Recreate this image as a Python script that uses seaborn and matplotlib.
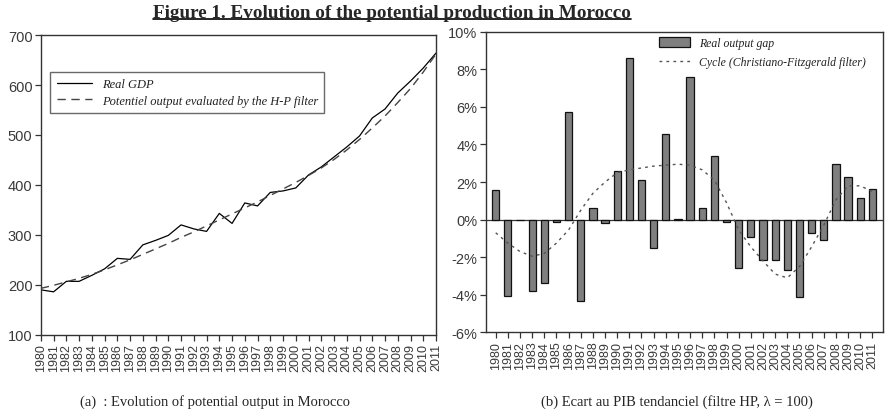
"""Figure 1: potential output and output gap for Morocco."""

import matplotlib
matplotlib.use("Agg")
import matplotlib.pyplot as plt
from matplotlib.lines import Line2D
import numpy as np
import pandas as pd
import seaborn as sns

# ---- data ----
years = list(range(1980, 2012))
real_gdp = [190, 186, 207, 207, 219, 232, 253, 251, 280, 289, 299, 320, 312, 307, 343, 323,
            364, 358, 385, 388, 394, 420, 436, 456, 476, 498, 534, 552, 584, 608, 634, 664]
hp_trend = [193, 199, 206, 213, 221, 230, 240, 250, 261, 272, 283, 295, 306, 318, 330, 342,
            354, 366, 379, 392, 405, 419, 434, 451, 470, 491, 514, 538, 565, 593, 626, 662]
output_gap = [1.6, -4.05, 0.0, -3.8, -3.4, -0.1, 5.75, -4.35, 0.6, -0.2, 2.6, 8.6, 2.1, -1.5,
              4.55, 0.05, 7.6, 0.6, 3.4, -0.1, -2.6, -0.9, -2.15, -2.15, -2.7, -4.1, -0.7,
              -1.1, 2.95, 2.25, 1.15, 1.65]
cf_cycle = [-0.7, -1.25, -1.7, -1.95, -1.8, -1.25, -0.55, 0.5, 1.4, 2.0, 2.5, 2.65, 2.75,
            2.85, 2.9, 2.95, 2.9, 2.65, 2.1, 0.9, -0.55, -1.45, -2.2, -2.9, -3.1, -2.5,
            -1.45, -0.3, 1.05, 1.8, 1.8, 1.5]

gdp_df = pd.DataFrame({"Year": years, "Real GDP": real_gdp, "Trend": hp_trend})
gap_df = pd.DataFrame({"Year": [str(y) for y in years], "Gap": output_gap,
                       "Pos": np.arange(len(years)), "Cycle": cf_cycle})

sns.set_style("ticks")
plt.rcParams["font.family"] = ["Liberation Sans", "DejaVu Sans"]
TICK_COLOR = "#3a3a3a"
SERIF = ["Liberation Serif", "DejaVu Serif"]

fig = plt.figure(figsize=(8.88, 4.10), dpi=100)
ax1 = fig.add_axes([0.046, 0.181, 0.445, 0.731])
ax2 = fig.add_axes([0.547, 0.187, 0.447, 0.733])


def _style_axes(ax):
    for sp in ax.spines.values():
        sp.set_color("#333333")
        sp.set_linewidth(1.0)
    ax.tick_params(axis="both", direction="out", length=4, width=0.9, color="#333333",
                   labelcolor=TICK_COLOR, pad=2)
    ax.tick_params(axis="y", labelsize=10.5)
    ax.tick_params(axis="x", labelsize=9, rotation=90)


# ---- panel (a) ----
sns.lineplot(data=gdp_df, x="Year", y="Real GDP", ax=ax1, color="black", linewidth=0.9,
             label="Real GDP")
sns.lineplot(data=gdp_df, x="Year", y="Trend", ax=ax1, color="#444444", linewidth=1.0,
             dashes=False, label="Potentiel output evaluated by the H-P filter")
ax1.lines[1].set_dashes((6, 4))
ax1.set_xlim(1980, 2011)
ax1.set_ylim(100, 700)
ax1.set_xticks(years)
ax1.set_xticklabels([str(y) for y in years])
ax1.set_yticks(range(100, 701, 100))
ax1.set_xlabel("")
ax1.set_ylabel("")
_style_axes(ax1)
leg1 = ax1.legend(loc="upper left", bbox_to_anchor=(0.024, 0.877), frameon=True, fancybox=False,
                  prop={"family": SERIF, "style": "italic", "size": 9}, handlelength=2.8,
                  borderpad=0.5, labelspacing=0.35, handletextpad=0.8, borderaxespad=0)
leg1.get_frame().set_edgecolor("#444444")
leg1.get_frame().set_linewidth(1.0)
for t in leg1.get_texts():
    t.set_color("#222222")

# ---- panel (b) ----
sns.barplot(data=gap_df, x="Year", y="Gap", ax=ax2, color="#7f7f7f", edgecolor="#111111",
            linewidth=0.9, width=0.6, saturation=1, label="Real output gap")
sns.lineplot(data=gap_df, x="Pos", y="Cycle", ax=ax2, color="#555555", linewidth=1.0,
             label="Cycle (Christiano-Fitzgerald filter)")
ax2.lines[-1].set_dashes((2, 3))
ax2.axhline(0, color="#333333", linewidth=0.9, zorder=0.5)
ax2.set_xlim(-0.82, 31.85)
ax2.set_ylim(-6, 10)
ax2.set_yticks(range(-6, 11, 2))
ax2.set_yticklabels([f"{v}%" for v in range(-6, 11, 2)])
ax2.set_xlabel("")
ax2.set_ylabel("")
_style_axes(ax2)
handles, labels = ax2.get_legend_handles_labels()
order = [labels.index("Real output gap"), labels.index("Cycle (Christiano-Fitzgerald filter)")]
leg2 = ax2.legend([handles[i] for i in order], [labels[i] for i in order],
                  loc="upper left", bbox_to_anchor=(0.41, 1.018), frameon=False,
                  prop={"family": SERIF, "style": "italic", "size": 8.5}, handlelength=2.6,
                  handleheight=0.9, labelspacing=0.6, handletextpad=0.8)
for t in leg2.get_texts():
    t.set_color("#222222")

# ---- titles / captions ----
title = fig.text(0.441, 0.968, "Figure 1. Evolution of the potential production in Morocco",
                 ha="center", va="center", fontsize=13.8, fontweight="bold", family=SERIF)
fig.text(0.242, 0.02, "(a)  : Evolution of potential output in Morocco", ha="center",
         va="center", fontsize=10.5, family=SERIF)
fig.text(0.762, 0.02, "(b) Ecart au PIB tendanciel (filtre HP, λ = 100)", ha="center",
         va="center", fontsize=10.5, family=SERIF)

fig.canvas.draw()
bb = title.get_window_extent().transformed(fig.transFigure.inverted())
fig.add_artist(Line2D([bb.x0, bb.x1], [bb.y0 + 0.004, bb.y0 + 0.004], color="black",
                      linewidth=1.2, transform=fig.transFigure))

fig.savefig("out.png", dpi=100)
